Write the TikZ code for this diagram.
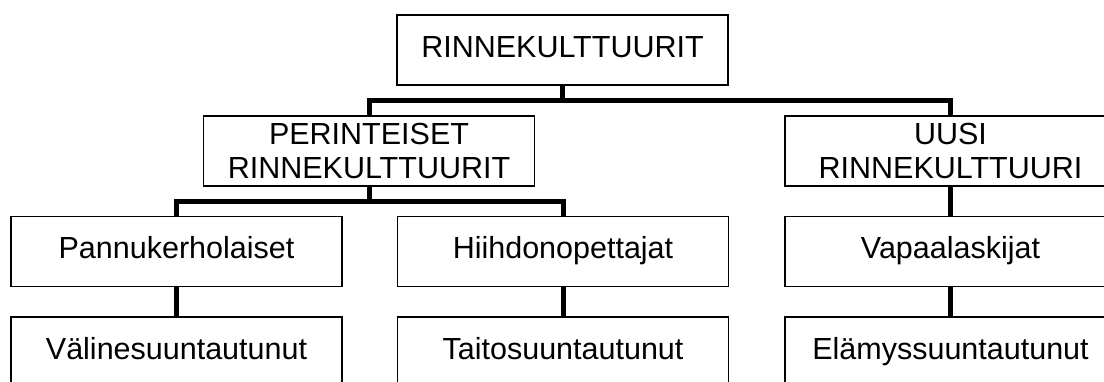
\documentclass[tikz,border=0pt]{standalone}
\usepackage{fontspec}
\setmainfont{Liberation Sans}

\tikzset{
  box/.style={draw, line width=1.4pt, minimum width=331pt, minimum height=70pt,
    inner sep=0pt, align=center, font=\fontsize{30.5}{34.5}\selectfont},
  onebox/.style={box, text height=21.8pt, text depth=7pt},
  conn/.style={line width=5pt}
}

\begin{document}
\begin{tikzpicture}[x=1pt,y=-1pt]
  \useasboundingbox (0,0) rectangle (1104,382);
  \clip (0,0) rectangle (1104,382);

  \node[onebox] (top) at (562.5,50) {RINNEKULTTUURIT};

  \node[box] (perint) at (369,151) {PERINTEISET\\RINNEKULTTUURIT};
  \node[box] (uusi) at (950.5,151) {UUSI\\RINNEKULTTUURI};

  \node[onebox] (pannu) at (176.5,251.5) {Pannukerholaiset};
  \node[onebox] (hiihto) at (563,251.5) {Hiihdonopettajat};
  \node[onebox] (vapaa) at (950.5,251.5) {Vapaalaskijat};

  \node[onebox] (valine) at (176.5,352) {Välinesuuntautunut};
  \node[onebox] (taito) at (563,352) {Taitosuuntautunut};
  \node[onebox] (elamys) at (950.5,352) {Elämyssuuntautunut};

  \draw[conn] (top.south) -- ++(0,15) coordinate (topjoin);
  \draw[conn] (perint.north) |- (topjoin) -| (uusi.north);

  \draw[conn] (perint.south) -- ++(0,15) coordinate (perjoin);
  \draw[conn] (pannu.north) |- (perjoin) -| (hiihto.north);

  \draw[conn] (uusi) -- (vapaa);
  \draw[conn] (pannu) -- (valine);
  \draw[conn] (hiihto) -- (taito);
  \draw[conn] (vapaa) -- (elamys);
\end{tikzpicture}
\end{document}
